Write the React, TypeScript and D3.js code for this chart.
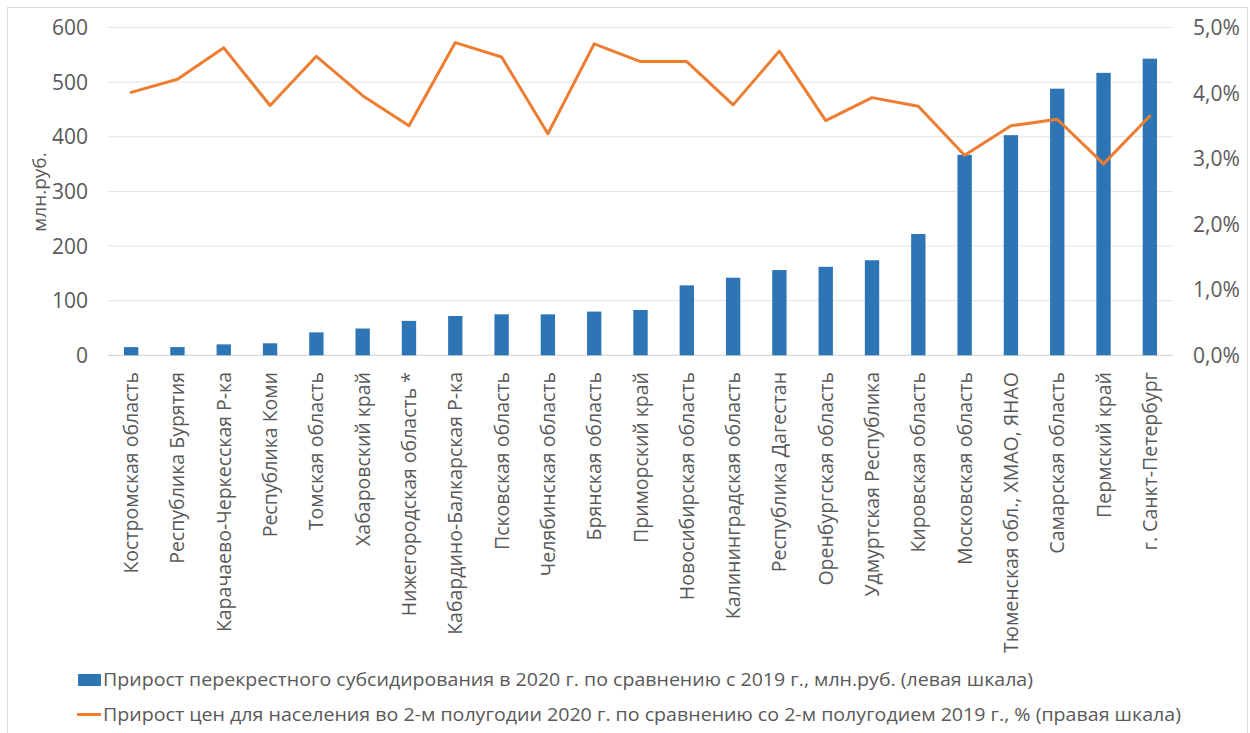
import React from "react";
import * as d3 from "d3";

// Regions, ordered by growth of cross-subsidy
const regions: string[] = [
  "Костромская область",
  "Республика Бурятия",
  "Карачаево-Черкесская Р-ка",
  "Республика Коми",
  "Томская область",
  "Хабаровский край",
  "Нижегородская область *",
  "Кабардино-Балкарская Р-ка",
  "Псковская область",
  "Челябинская область",
  "Брянская область",
  "Приморский край",
  "Новосибирская область",
  "Калининградская область",
  "Республика Дагестан",
  "Оренбургская область",
  "Удмуртская Республика",
  "Кировская область",
  "Московская область",
  "Тюменская обл., ХМАО, ЯНАО",
  "Самарская область",
  "Пермский край",
  "г. Санкт-Петербург",
];

// Growth of cross-subsidy 2020 vs 2019, mln rub (left axis)
const subsidyGrowth: number[] = [
  15, 15, 20, 22, 42, 49, 63, 72, 75, 75, 80, 83,
  128, 142, 156, 162, 174, 222, 367, 403, 488, 517, 543,
];

// Growth of household prices, H2 2020 vs H2 2019, % (right axis)
const priceGrowth: number[] = [
  4.01, 4.21, 4.69, 3.81, 4.56, 3.96, 3.5, 4.77, 4.55, 3.38, 4.75, 4.48,
  4.48, 3.82, 4.64, 3.58, 3.93, 3.8, 3.05, 3.5, 3.6, 2.92, 3.65,
];

const leftTicks: number[] = [0, 100, 200, 300, 400, 500, 600];
const rightTicks: number[] = [0, 1, 2, 3, 4, 5];

const legendBar =
  "Прирост перекрестного субсидирования в 2020 г. по сравнению с 2019 г., млн.руб. (левая шкала)";
const legendLine =
  "Прирост цен для населения во 2-м полугодии 2020 г. по сравнению со 2-м полугодием 2019 г., % (правая шкала)";

const W = 1250;
const H = 733;
const plot = { left: 108, right: 1173, top: 27.5, bottom: 355.3 };
const FONT = "'Open Sans', 'DejaVu Sans', sans-serif";
const TEXT = "#595959";
const BLUE = "#2E75B6";
const ORANGE = "#ED7D31";

export default function App() {
  const x = d3
    .scaleBand<string>()
    .domain(regions)
    .range([plot.left, plot.right])
    .paddingInner(0.69)
    .paddingOuter(0.345);
  const yL = d3.scaleLinear().domain([0, 600]).range([plot.bottom, plot.top]);
  const yR = d3.scaleLinear().domain([0, 5]).range([plot.bottom, plot.top]);
  const cx = (r: string) => (x(r) ?? 0) + x.bandwidth() / 2;

  const line = d3
    .line<number>()
    .x((_, i) => cx(regions[i]))
    .y((d) => yR(d));

  const fmtPct = (v: number) => v.toFixed(1).replace(".", ",") + "%";

  return (
    <svg
      width={W}
      height={H}
      style={{ position: "absolute", left: 0, top: 0, background: "#fff" }}
      fontFamily={FONT}
    >
      <rect x={7.5} y={7.5} width={1240} height={740} fill="#fff" stroke="#D9D9D9" />

      {/* gridlines */}
      {leftTicks.map((t) => (
        <line
          key={t}
          x1={plot.left}
          x2={plot.right}
          y1={yL(t)}
          y2={yL(t)}
          stroke={t === 0 ? "#D0D0D0" : "#E3E3E3"}
          strokeWidth={1}
        />
      ))}

      {/* left axis labels */}
      {leftTicks.map((t) => (
        <text key={t} x={88} y={yL(t)} dy="0.36em" textAnchor="end" fontSize={21} fill={TEXT}>
          {t}
        </text>
      ))}
      {/* right axis labels */}
      {rightTicks.map((t) => (
        <text key={t} x={1193} y={yR(t)} dy="0.36em" textAnchor="start" fontSize={21} fill={TEXT}>
          {fmtPct(t)}
        </text>
      ))}

      <text
        transform={`translate(46,192) rotate(-90)`}
        textAnchor="middle"
        fontSize={19}
        fill={TEXT}
      >
        млн.руб.
      </text>

      {/* bars */}
      {regions.map((r, i) => (
        <rect
          key={r}
          x={x(r)}
          y={yL(subsidyGrowth[i])}
          width={x.bandwidth()}
          height={yL(0) - yL(subsidyGrowth[i])}
          fill={BLUE}
        />
      ))}

      {/* price line */}
      <path
        d={line(priceGrowth) ?? ""}
        fill="none"
        stroke={ORANGE}
        strokeWidth={3}
        strokeLinejoin="round"
        strokeLinecap="round"
      />

      {/* category labels */}
      {regions.map((r) => (
        <text
          key={r}
          transform={`translate(${cx(r) + 7},${372}) rotate(-90)`}
          textAnchor="end"
          fontSize={19.5}
          fill={TEXT}
        >
          {r}
        </text>
      ))}

      {/* legend */}
      <rect x={78} y={674} width={23} height={12} fill={BLUE} />
      <text
        x={103}
        y={686}
        fontSize={18}
        fill={TEXT}
        textLength={930}
        lengthAdjust="spacingAndGlyphs"
      >
        {legendBar}
      </text>
      <line x1={77} x2={101} y1={714.5} y2={714.5} stroke={ORANGE} strokeWidth={3} />
      <text
        x={103}
        y={721}
        fontSize={18}
        fill={TEXT}
        textLength={1078}
        lengthAdjust="spacingAndGlyphs"
      >
        {legendLine}
      </text>
    </svg>
  );
}
